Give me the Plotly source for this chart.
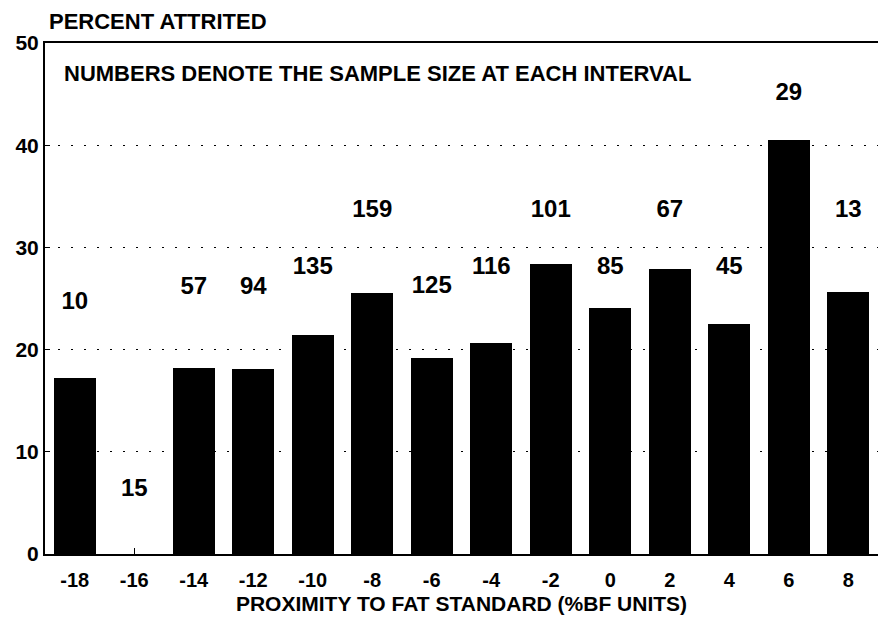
import plotly.graph_objects as go

intervals = [-18, -16, -14, -12, -10, -8, -6, -4, -2, 0, 2, 4, 6, 8]
pct_attrited = [17.2, 0, 18.2, 18.1, 21.4, 25.5, 19.2, 20.6, 28.4, 24.1, 27.9, 22.5, 40.5, 25.6]
sample_sizes = [10, 15, 57, 94, 135, 159, 125, 116, 101, 85, 67, 45, 29, 13]
label_y = [24.6, 6.3, 26.0, 26.0, 28.0, 33.6, 26.1, 28.0, 33.6, 28.0, 33.6, 28.0, 45.0, 33.6]
y_ticks = [0, 10, 20, 30, 40, 50]

FONT = "Liberation Sans, Arial, Helvetica, sans-serif"

fig = go.Figure()
fig.add_trace(go.Bar(
    x=intervals, y=pct_attrited, width=1.4,
    marker=dict(color="black", line=dict(width=0)),
    hoverinfo="skip", showlegend=False,
))
fig.add_trace(go.Scatter(
    x=intervals, y=label_y, mode="text",
    text=[str(s) for s in sample_sizes],
    textposition="middle center",
    textfont=dict(family=FONT, size=24, color="black", weight="bold"),
    cliponaxis=False, showlegend=False, hoverinfo="skip",
))

fig.update_layout(
    width=878, height=628,
    margin=dict(l=45, r=0, t=43, b=74, autoexpand=False),
    paper_bgcolor="white", plot_bgcolor="white",
    bargap=0,
    xaxis=dict(
        range=[-19, 9], tickmode="array", tickvals=intervals,
        ticktext=[str(v) for v in intervals],
        showline=True, linecolor="black", linewidth=2, mirror=True,
        ticks="inside", ticklen=6, tickcolor="black",
        ticklabelstandoff=7,
        showgrid=False, zeroline=False, automargin=False,
        tickfont=dict(family=FONT, size=20, color="black", weight="bold"),
        title=dict(text="PROXIMITY TO FAT STANDARD (%BF UNITS)",
                   font=dict(family=FONT, size=21, color="black", weight="bold"),
                   standoff=6),
    ),
    yaxis=dict(
        range=[0, 50], tickmode="array", tickvals=y_ticks,
        showline=True, linecolor="black", linewidth=2,
        ticks="inside", ticklen=5, tickcolor="black",
        showgrid=True, gridcolor="black", griddash="2px,11px", gridwidth=1,
        zeroline=False, automargin=False,
        tickfont=dict(family=FONT, size=21, color="black", weight="bold"),
    ),
    annotations=[
        dict(text="PERCENT ATTRITED", xref="paper", yref="paper",
             x=0.004, y=554 / 511, xanchor="left", yanchor="top", showarrow=False,
             borderpad=0, yshift=-8,
             font=dict(family=FONT, size=22, color="black", weight="bold")),
        dict(text="NUMBERS DENOTE THE SAMPLE SIZE AT EACH INTERVAL",
             xref="paper", yref="paper", x=0.0204, y=0.941,
             xanchor="left", yanchor="middle", showarrow=False,
             font=dict(family=FONT, size=22, color="black", weight="bold")),
    ],
)

fig.write_html("out.html",
               config={"displayModeBar": False},
               post_script="document.body.style.margin='0px';document.body.style.overflow='hidden';")
